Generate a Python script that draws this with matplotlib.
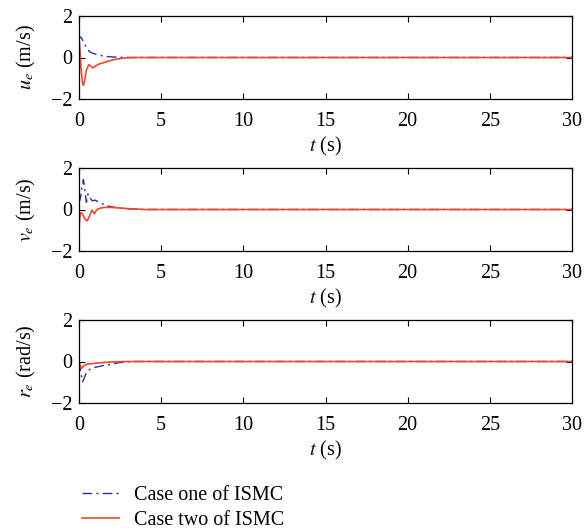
import matplotlib
matplotlib.use('Agg')
import matplotlib.pyplot as plt

plt.rcParams['font.family'] = ['Liberation Serif', 'DejaVu Serif']
plt.rcParams['mathtext.fontset'] = 'stix'

# error responses, case one of ISMC (blue) and case two (red)
t_u1 = [0, 0.05, 0.15, 0.3, 0.45, 0.65, 0.85, 1.05, 1.3, 1.65, 2.0, 2.5, 3.0, 30]
u1 = [0.8, 1.0, 0.95, 0.7, 0.48, 0.27, 0.2, 0.15, 0.1, 0.05, 0.03, 0.01, 0.0, 0.0]
t_u2 = [0, 0.05, 0.12, 0.2, 0.27, 0.35, 0.45, 0.6, 0.7, 0.84, 1.0, 1.2, 1.5, 1.8, 2.2, 2.6, 3.0, 3.5, 30]
u2 = [1.0, 0.5, -0.5, -1.15, -1.35, -1.1, -0.6, -0.34, -0.4, -0.5, -0.42, -0.32, -0.25, -0.17, -0.09, -0.04, -0.01, 0.0, 0.0]

t_v1 = [0, 0.1, 0.18, 0.27, 0.36, 0.45, 0.55, 0.65, 0.8, 1.0, 1.2, 1.45, 1.65, 2.2, 3.0, 4.0, 30]
v1 = [0.3, 0.6, 1.1, 1.45, 0.9, 0.35, 0.75, 0.6, 0.42, 0.45, 0.35, 0.26, 0.18, 0.1, 0.03, 0.0, 0.0]
t_v2 = [0, 0.05, 0.1, 0.2, 0.35, 0.5, 0.65, 0.78, 0.94, 1.05, 1.14, 1.3, 1.5, 2.0, 2.5, 3.0, 3.5, 4.0, 30]
v2 = [-1.0, -0.4, -0.15, -0.2, -0.45, -0.55, -0.3, -0.03, -0.2, -0.05, 0.02, 0.06, 0.1, 0.1, 0.07, 0.04, 0.02, 0.0, 0.0]

t_r1 = [0, 0.1, 0.22, 0.32, 0.43, 0.6, 0.73, 1.04, 1.4, 1.86, 2.4, 3.0, 3.5, 30]
r1 = [0.0, -0.5, -0.98, -0.8, -0.55, -0.42, -0.34, -0.27, -0.21, -0.15, -0.06, -0.02, 0.0, 0.0]
t_r2 = [0, 0.08, 0.16, 0.3, 0.5, 0.8, 1.2, 1.8, 2.4, 3.0, 30]
r2 = [0.0, -0.2, -0.34, -0.2, -0.13, -0.1, -0.07, -0.03, -0.01, 0.0, 0.0]

ylabels = ['$u_e$ (m/s)', '$v_e$ (m/s)', '$r_e$ (rad/s)']
xticks = [0, 5, 10, 15, 20, 25, 30]
yticks = [-2, 0, 2]

blue = '#2e2e9c'
red = '#f2472a'

fig = plt.figure(figsize=(5.86, 5.32), dpi=100)
W, H = 586, 532
tops = [16, 168, 320]
left, right = 79, 572
ax_h = 83

series = [(t_u1, u1, t_u2, u2), (t_v1, v1, t_v2, v2), (t_r1, r1, t_r2, r2)]
for i, (ta, ya, tb, yb) in enumerate(series):
    ax = fig.add_axes([left / W, 1 - (tops[i] + ax_h) / H, (right - left) / W, ax_h / H])
    l1, = ax.plot(ta, ya, color=blue, linestyle=(0, (7, 3, 1.5, 3)), linewidth=1.0)
    l2, = ax.plot(tb, yb, color=red, linestyle='-', linewidth=1.2)
    ax.set_xlim(0, 30)
    ax.set_ylim(-2, 2)
    ax.set_xticks(xticks)
    ax.set_yticks(yticks)
    ax.set_yticklabels(['\u22122', '0', '2'])
    ax.tick_params(direction='in', top=True, right=True, labelsize=14.5, length=4, width=0.8)
    ax.tick_params(axis='x', pad=9)
    ax.tick_params(axis='y', pad=5)
    ax.set_xlabel('$t$ (s)', fontsize=14.5, labelpad=3)
    ax.set_ylabel(ylabels[i], fontsize=14.5, labelpad=9)
    for s in ax.spines.values():
        s.set_linewidth(0.9)

fig.legend([l1, l2], ['Case one of ISMC', 'Case two of ISMC'], loc='lower left',
           bbox_to_anchor=(72 / W, -0.016), frameon=False, fontsize=14.5,
           handlelength=1.85, handletextpad=0.75, labelspacing=0.3, borderaxespad=0.1)

fig.savefig('out.png', dpi=100)
